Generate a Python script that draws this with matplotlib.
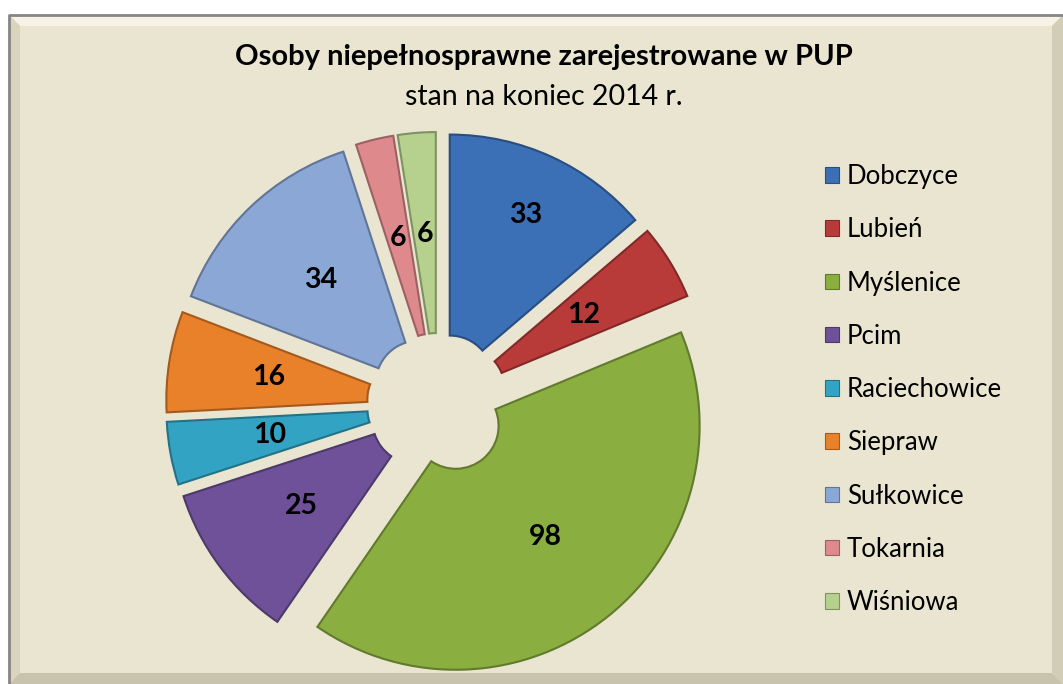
import math
import matplotlib
matplotlib.use("Agg")
import matplotlib.pyplot as plt
from matplotlib.patches import Rectangle, Polygon
from matplotlib.colors import to_rgb

plt.rcParams['font.family'] = ['Lato', 'DejaVu Sans']

# data
categories = ["Dobczyce", "Lubień", "Myślenice", "Pcim", "Raciechowice",
              "Siepraw", "Sułkowice", "Tokarnia", "Wiśniowa"]
values = [33, 12, 98, 25, 10, 16, 34, 6, 6]
colors = ["#3B6FB6", "#B93B39", "#8AAE40", "#6E5198", "#33A3C3",
          "#E9812A", "#8AA7D6", "#DE8A8D", "#B6D18D"]
title = "Osoby niepełnosprawne zarejestrowane w PUP"
subtitle = "stan na koniec 2014 r."

W, H = 1063, 684
fig = plt.figure(figsize=(W / 100, H / 100), dpi=100)
ax = fig.add_axes([0, 0, 1, 1])

# chart background with a bevelled frame
bg = "#EAE5D0"
x0, y0, x1, y1 = 9, 0, W, H - 15
b = 11
ax.add_patch(Rectangle((x0, y0), x1 - x0, y1 - y0, facecolor=bg,
                       edgecolor="none", zorder=0))
ax.add_patch(Polygon([(x0, y1), (x1, y1), (x1 - b, y1 - b), (x0 + b, y1 - b)],
                     facecolor="#F6F3E6", edgecolor="none", zorder=0.5))
ax.add_patch(Polygon([(x0, y0), (x0, y1), (x0 + b, y1 - b), (x0 + b, y0 + b)],
                     facecolor="#D9D4BE", edgecolor="none", zorder=0.5))
ax.add_patch(Polygon([(x1, y0), (x1, y1), (x1 - b, y1 - b), (x1 - b, y0 + b)],
                     facecolor="#D2CDB7", edgecolor="none", zorder=0.5))
ax.add_patch(Polygon([(x0, y0), (x1, y0), (x1 - b, y0 + b), (x0 + b, y0 + b)],
                     facecolor="#C8C3AD", edgecolor="none", zorder=0.5))
ax.plot([x0, x0, x1], [y0, y1, y1], color="#858585", lw=2, zorder=1)

# exploded doughnut
total = sum(values)
wedges, texts, autotexts = ax.pie(
    values, colors=colors, startangle=90, counterclock=False,
    explode=[28] * len(values), radius=244, center=(438, 280),
    wedgeprops=dict(width=201, linewidth=1.5),
    autopct=lambda p: f"{p * total / 100:.0f}", pctdistance=0.586,
    textprops=dict(fontsize=20.5, fontweight="bold", color="black"))

for w, c in zip(wedges, colors):
    r, g, bl = to_rgb(c)
    w.set_edgecolor((r * 0.7, g * 0.7, bl * 0.7))
    w.set_zorder(2)
for t in autotexts:
    t.set_zorder(3)

# the Dobczyce label sits further out in the original
w0 = wedges[0]
th = math.radians((w0.theta1 + w0.theta2) / 2)
cx, cy = w0.center
autotexts[0].set_position((cx + 0.74 * w0.r * math.cos(th),
                           cy + 0.74 * w0.r * math.sin(th)))

ax.set_xlim(0, W)
ax.set_ylim(0, H)
ax.set_aspect("equal")
ax.axis("off")

ax.text(544, H - 57, title, ha="center", va="center", fontsize=21,
        fontweight="bold", zorder=3)
ax.text(544, H - 97, subtitle, ha="center", va="center", fontsize=20.5, zorder=3)

leg = ax.legend(wedges, categories, loc="upper left",
                bbox_to_anchor=(825 / W, 1 - 164 / H), bbox_transform=fig.transFigure,
                frameon=False, fontsize=18.5, handlelength=0.55, handleheight=0.55,
                handletextpad=0.3, labelspacing=1.1, borderpad=0, borderaxespad=0)
for h in leg.legend_handles:
    h.set_linewidth(0.8)

fig.savefig("out.png", dpi=100, facecolor="white")
